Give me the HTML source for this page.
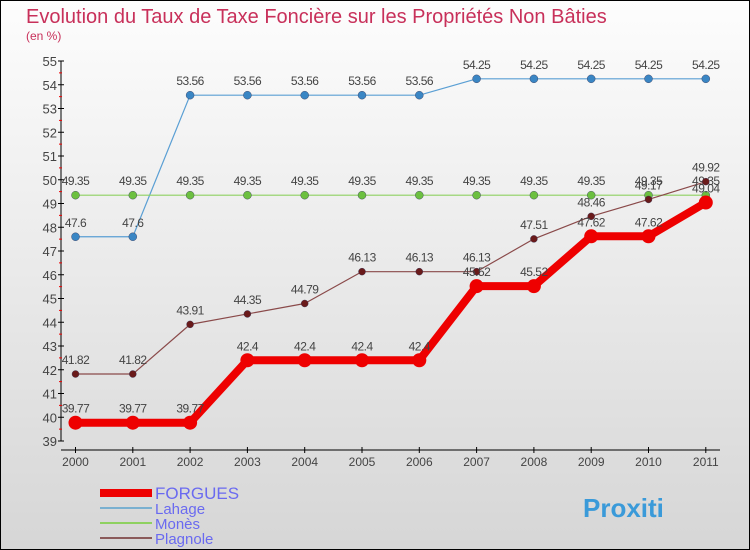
<!DOCTYPE html>
<html><head><meta charset="utf-8"><style>
body{margin:0}
svg{display:block;font-family:"Liberation Sans",sans-serif}
</style></head><body>
<svg id="c" width="750" height="550">
<defs><linearGradient id="bg" x1="0" y1="0" x2="0" y2="1"><stop offset="0" stop-color="#fdfdfd"/><stop offset="1" stop-color="#d6d6d6"/></linearGradient></defs>
<rect x="0.5" y="0.5" width="749" height="549" fill="url(#bg)" stroke="#000"/>
<text x="26" y="23" font-size="20" fill="#c8305a">Evolution du Taux de Taxe Foncière sur les Propriétés Non Bâties</text>
<text x="26" y="40" font-size="12" fill="#c8305a">(en %)</text>
<g id="axes"></g><g id="series"></g><g id="legend"></g>
</svg>
<script>
const years=["2000","2001","2002","2003","2004","2005","2006","2007","2008","2009","2010","2011"];
const forgues=[39.77,39.77,39.77,42.4,42.4,42.4,42.4,45.52,45.52,47.62,47.62,49.04];
const lahage=[47.6,47.6,53.56,53.56,53.56,53.56,53.56,54.25,54.25,54.25,54.25,54.25];
const mones=[49.35,49.35,49.35,49.35,49.35,49.35,49.35,49.35,49.35,49.35,49.35,49.35];
const plagnole=[41.82,41.82,43.91,44.35,44.79,46.13,46.13,46.13,47.51,48.46,49.17,49.92];
const yTicks=[39,40,41,42,43,44,45,46,47,48,49,50,51,52,53,54,55];
const NS="http://www.w3.org/2000/svg";
const X=i=>75.5+i*57.3, Y=v=>441-(v-39)*23.75;
function mk(t,a,p){const e=document.createElementNS(NS,t);for(const k in a)e.setAttribute(k,a[k]);p.appendChild(e);return e;}
const ax=document.getElementById('axes');
let l=mk('line',{x1:61,y1:Y(55),x2:61,y2:Y(39),stroke:'#000'},ax);


l=mk('line',{x1:61,y1:450,x2:720,y2:450,stroke:'#000'},ax);


yTicks.forEach((v,i)=>{
  mk('line',{x1:58,y1:Y(v),x2:64,y2:Y(v),stroke:'#000'},ax);
  if(i<yTicks.length-1)mk('line',{x1:59,y1:Y(v+0.5),x2:62,y2:Y(v+0.5),stroke:'#e00'},ax);
  const t=mk('text',{x:57,y:Y(v)+5,'text-anchor':'end','font-size':13,fill:'#444'},ax);t.textContent=v;
  
  
});
years.forEach((y,i)=>{
  mk('line',{x1:X(i),y1:447,x2:X(i),y2:453,stroke:'#000'},ax);
  const t=mk('text',{x:X(i),y:466,'text-anchor':'middle','font-size':12,fill:'#444'},ax);t.textContent=y;
  
  
});
const sg=document.getElementById('series');
const S=[["lahage",lahage,"#5a9fd4",1.2,4,"#3a86c4"],["mones",mones,"#8ed160",1.2,4,"#6cc040"],["plagnole",plagnole,"#8a4a4a",1.2,3.5,"#6a1a1a"],["forgues",forgues,"#ee0000",8,7,"#ee0000"]];
S.forEach(([n,d,c,w,r,mc])=>{
  const g=mk('g',{},sg);
  
  
  mk('polyline',{points:d.map((v,i)=>X(i)+','+Y(v)).join(' '),fill:'none',stroke:c,'stroke-width':w,'stroke-linejoin':'round'},g);
  d.forEach((v,i)=>{
    const p=mk('circle',{cx:X(i),cy:Y(v),r:r,fill:mc,stroke:n=='forgues'?'none':'#335',"stroke-width":0.4},g);
    
    
    const t=mk('text',{x:X(i),y:Y(v)-10,'text-anchor':'middle','font-size':12,fill:'#444','letter-spacing':'-0.5'},g);t.textContent=v;
    
    
  });
});
const lg=document.getElementById('legend');
[["FORGUES","#ee0000",8,493,17],["Lahage","#7ab0d0",2,508,15],["Monès","#8ed160",2,523,15],["Plagnole","#8a5a5a",2,538,15]].forEach(([n,c,w,y,fs])=>{
  const g=mk('g',{},lg);
  
  
  mk('line',{x1:100,y1:y,x2:152,y2:y,stroke:c,'stroke-width':w},g);
  const t=mk('text',{x:155,y:y+6,'font-size':fs,fill:'#6a6af0'},g);t.textContent=n;
});
const lo=mk('text',{x:583,y:517,'font-size':26,'font-weight':'bold',fill:'#3a9ad9'},lg);
lo.textContent='Proxiti';


</script>
</body></html>
